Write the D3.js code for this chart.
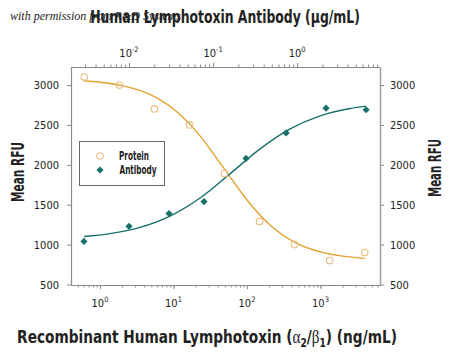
<!DOCTYPE html>
<html><head><meta charset="utf-8">
<script src="https://cdn.jsdelivr.net/npm/d3@7"></script>
<style>
body{margin:0;background:#fff;}
svg{display:block;}
text{font-family:"DejaVu Sans Condensed","DejaVu Sans",sans-serif;}
</style></head>
<body>
<svg id="c" width="450" height="357"></svg>
<script>
// ---- data ----
const proteinConc = [0.61, 1.83, 5.5, 16.5, 49.4, 148, 444, 1333, 4000];      // ng/mL
const proteinRFU  = [3100, 3000, 2700, 2500, 1890, 1290, 1000, 800, 900];
const antibodyConc = [0.00291, 0.0100, 0.0299, 0.0781, 0.247, 0.74, 2.21, 6.63]; // µg/mL
const antibodyRFU  = [1040, 1230, 1390, 1540, 2080, 2400, 2710, 2690];
// fitted curves
const proteinFitConc = [0.6, 1, 2, 5, 10, 20, 50, 100, 200, 500, 1000, 2000, 4000];
const proteinFitRFU  = [3053, 3035, 2992, 2873, 2700, 2429, 1940, 1560, 1256, 1007, 909, 856, 828];
const antibodyFitConc = [0.00291, 0.00594, 0.0135, 0.0308, 0.070, 0.159, 0.363, 0.826, 1.88, 4.28, 6.62];
const antibodyFitRFU  = [1102, 1138, 1216, 1358, 1584, 1887, 2200, 2450, 2614, 2706, 2736];
const yTicks = [500, 1000, 1500, 2000, 2500, 3000];
const bottomMajor = [1, 10, 100, 1000];
const bottomExp = ["0", "1", "2", "3"];
const topMajor = [0.01, 0.1, 1];
const topExp = ["-2", "-1", "0"];
const seriesNames = ["Protein", "Antibody"];

const orange = "#E1A12E", orangeMark = "#E9BD80", teal = "#17706A", axisCol = "#8a8a8a";
const L = 71, R = 380, T = 67, B = 285;
const svg = d3.select("#c");

const xB = d3.scaleLog().domain([0.403, 6450]).range([L, R]);
const xT = d3.scaleLog().domain([0.00204, 9.7]).range([L, R]);
const y = d3.scaleLinear().domain([494, 3226]).range([B, T]);

function minorTicks(sc) {
  const [a, b] = sc.domain(); const out = [];
  for (let e = Math.floor(Math.log10(a)); e <= Math.ceil(Math.log10(b)); e++)
    for (let m = 1; m <= 9; m++) { const v = m * Math.pow(10, e); if (v >= a && v <= b) out.push(v); }
  return out;
}

const g = svg.append("g");
const bMin = g.append("g").attr("transform", `translate(0,${B})`)
  .call(d3.axisBottom(xB).tickValues(minorTicks(xB)).tickFormat("").tickSizeInner(2.5).tickSizeOuter(0));
const bMaj = g.append("g").attr("transform", `translate(0,${B})`)
  .call(d3.axisBottom(xB).tickValues(bottomMajor).tickFormat("").tickSizeInner(4).tickSizeOuter(0));
const tMin = g.append("g").attr("transform", `translate(0,${T})`)
  .call(d3.axisTop(xT).tickValues(minorTicks(xT)).tickFormat("").tickSizeInner(2.5).tickSizeOuter(0));
const tMaj = g.append("g").attr("transform", `translate(0,${T})`)
  .call(d3.axisTop(xT).tickValues(topMajor).tickFormat("").tickSizeInner(4).tickSizeOuter(0));
const lAx = g.append("g").attr("transform", `translate(${L},0)`)
  .call(d3.axisLeft(y).tickValues(yTicks).tickFormat(d3.format("d")).tickSizeInner(4).tickSizeOuter(0).tickPadding(8));
const rAx = g.append("g").attr("transform", `translate(${R},0)`)
  .call(d3.axisRight(y).tickValues(yTicks).tickFormat(d3.format("d")).tickSizeInner(4).tickSizeOuter(0).tickPadding(6));
[bMin, bMaj, tMin, tMaj, lAx, rAx].forEach(a => {
  a.selectAll("path.domain").attr("stroke", axisCol).attr("stroke-width", 1.2);
  a.selectAll("line").attr("stroke", axisCol);
  a.selectAll("text").attr("font-size", 11).attr("fill", "#222")
    .attr("font-family", '"DejaVu Sans Condensed","DejaVu Sans",sans-serif');
});
rAx.selectAll("path.domain").attr("stroke", "#a0a0a0").attr("stroke-width", 1.5);

function powLabel(xs, exps, yPos) {
  xs.forEach((v, i) => {
    const t = svg.append("text").attr("x", v).attr("y", yPos).attr("font-size", 11)
      .attr("fill", "#222").attr("text-anchor", "middle");
    t.append("tspan").text("10");
    t.append("tspan").attr("font-size", 7.5).attr("dy", -5).text(exps[i]);
  });
}
powLabel(bottomMajor.map(v => xB(v)), bottomExp, 307);
powLabel(topMajor.map(v => xT(v)), topExp, 57);

// curves
const lineB = d3.line().x(d => xB(d[0])).y(d => y(d[1])).curve(d3.curveMonotoneX);
const lineT = d3.line().x(d => xT(d[0])).y(d => y(d[1])).curve(d3.curveMonotoneX);
svg.append("path").attr("d", lineB(d3.zip(proteinFitConc, proteinFitRFU)))
  .attr("fill", "none").attr("stroke", orange).attr("stroke-width", 1.4);
svg.append("path").attr("d", lineT(d3.zip(antibodyFitConc, antibodyFitRFU)))
  .attr("fill", "none").attr("stroke", teal).attr("stroke-width", 1.4);

// markers
svg.append("g").selectAll("circle").data(d3.zip(proteinConc, proteinRFU)).join("circle")
  .attr("cx", d => xB(d[0])).attr("cy", d => y(d[1])).attr("r", 3.3)
  .attr("fill", "none").attr("stroke", orangeMark).attr("stroke-width", 1.1);
svg.append("g").selectAll("path").data(d3.zip(antibodyConc, antibodyRFU)).join("path")
  .attr("d", d3.symbol().type(d3.symbolSquare).size(26))
  .attr("transform", d => `translate(${xT(d[0])},${y(d[1])}) rotate(45)`)
  .attr("fill", teal);

// fitted-width text helper
function fitText(cx, cy, rot, targetW, size, weight, build) {
  const gg = svg.append("g").attr("transform", `translate(${cx},${cy}) rotate(${rot})`);
  const t = gg.append("text").attr("text-anchor", "middle").attr("font-size", size)
    .attr("font-weight", weight).attr("fill", "#222");
  build(t);
  const w = t.node().getBBox().width;
  t.attr("transform", `scale(${targetW / w},1)`);
  return t;
}

// legend
svg.append("rect").attr("x", 79.5).attr("y", 141.5).attr("width", 85).attr("height", 44)
  .attr("fill", "#fff").attr("stroke", "#666").attr("stroke-width", 1);
svg.append("circle").attr("cx", 100).attr("cy", 156).attr("r", 3.3)
  .attr("fill", "none").attr("stroke", orangeMark).attr("stroke-width", 1.1);
svg.append("path").attr("d", d3.symbol().type(d3.symbolSquare).size(26))
  .attr("transform", "translate(100,170) rotate(45)").attr("fill", teal);
fitText(134, 160, 0, 30, 12, "bold", t => t.text(seriesNames[0]));
fitText(138, 174, 0, 37, 12, "bold", t => t.text(seriesNames[1]));

// titles
svg.append("text").attr("x", 10).attr("y", 20).attr("font-size", 12)
  .attr("font-style", "italic").attr("fill", "#222")
  .style("font-family", '"Liberation Serif","DejaVu Serif",serif')
  .text("with permission from R&D Systems");
fitText(225, 23, 0, 270, 18, "bold", t => t.text("Human Lymphotoxin Antibody (\u00b5g/mL)"));

fitText(207, 343, 0, 380, 18, "bold", t => {
  t.append("tspan").text("Recombinant Human Lymphotoxin (");
  t.append("tspan").style("font-family", '"Liberation Serif",serif').attr("font-weight", "normal").text("\u03b1");
  t.append("tspan").attr("font-size", 12).attr("dy", 4).text("2");
  t.append("tspan").attr("dy", -4).text("/");
  t.append("tspan").style("font-family", '"Liberation Serif",serif').attr("font-weight", "normal").text("\u03b2");
  t.append("tspan").attr("font-size", 12).attr("dy", 4).text("1");
  t.append("tspan").attr("dy", -4).text(") (ng/mL)");
});

fitText(24, 172, -90, 60, 17.5, "bold", t => t.text("Mean RFU"));
fitText(441, 168, -90, 58, 17.5, "bold", t => t.text("Mean RFU"));
</script>
</body></html>
